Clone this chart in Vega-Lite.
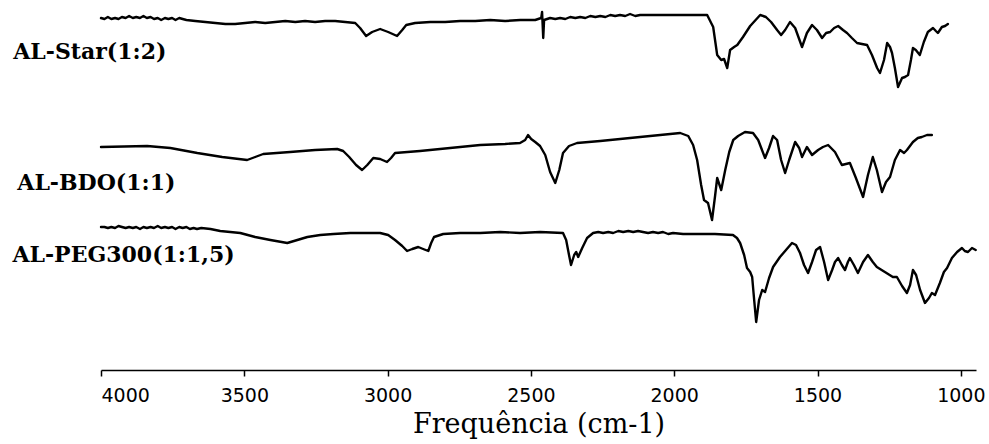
{
  "$schema": "https://vega.github.io/schema/vega-lite/v6.json",
  "width": 875,
  "height": 370,
  "autosize": {"type": "none"},
  "padding": {"left": 101, "top": 0, "right": 13, "bottom": 74},
  "background": "white",
  "config": {"view": {"stroke": null}},
  "datasets": {
    "spectra": [
      {"series":"Star","wavenumber":4000,"T":352},{"series":"Star","wavenumber":3988,"T":351},{"series":"Star","wavenumber":3976,"T":353},{"series":"Star","wavenumber":3964,"T":351},{"series":"Star","wavenumber":3951,"T":352},{"series":"Star","wavenumber":3939,"T":351},{"series":"Star","wavenumber":3927,"T":353},{"series":"Star","wavenumber":3914,"T":352},{"series":"Star","wavenumber":3902,"T":354},{"series":"Star","wavenumber":3889,"T":352},{"series":"Star","wavenumber":3877,"T":353},{"series":"Star","wavenumber":3864,"T":352},{"series":"Star","wavenumber":3852,"T":354},{"series":"Star","wavenumber":3840,"T":352},{"series":"Star","wavenumber":3827,"T":353},{"series":"Star","wavenumber":3815,"T":351},{"series":"Star","wavenumber":3802,"T":352},{"series":"Star","wavenumber":3790,"T":350},{"series":"Star","wavenumber":3777,"T":352},{"series":"Star","wavenumber":3765,"T":351},{"series":"Star","wavenumber":3752,"T":352},{"series":"Star","wavenumber":3740,"T":350},{"series":"Star","wavenumber":3727,"T":352},{"series":"Star","wavenumber":3715,"T":351},{"series":"Star","wavenumber":3702,"T":350},{"series":"Star","wavenumber":3671,"T":349},{"series":"Star","wavenumber":3636,"T":348},{"series":"Star","wavenumber":3601,"T":347},{"series":"Star","wavenumber":3566,"T":346},{"series":"Star","wavenumber":3532,"T":346},{"series":"Star","wavenumber":3497,"T":347},{"series":"Star","wavenumber":3462,"T":348},{"series":"Star","wavenumber":3427,"T":347},{"series":"Star","wavenumber":3392,"T":348},{"series":"Star","wavenumber":3357,"T":349},{"series":"Star","wavenumber":3322,"T":348},{"series":"Star","wavenumber":3288,"T":349},{"series":"Star","wavenumber":3253,"T":348},{"series":"Star","wavenumber":3218,"T":349},{"series":"Star","wavenumber":3183,"T":349},{"series":"Star","wavenumber":3148,"T":348},{"series":"Star","wavenumber":3113,"T":347},{"series":"Star","wavenumber":3096,"T":342},{"series":"Star","wavenumber":3075,"T":334},{"series":"Star","wavenumber":3054,"T":338},{"series":"Star","wavenumber":3026,"T":341},{"series":"Star","wavenumber":2998,"T":338},{"series":"Star","wavenumber":2967,"T":334},{"series":"Star","wavenumber":2949,"T":340},{"series":"Star","wavenumber":2935,"T":345},{"series":"Star","wavenumber":2904,"T":347},{"series":"Star","wavenumber":2851,"T":348},{"series":"Star","wavenumber":2799,"T":348},{"series":"Star","wavenumber":2747,"T":349},{"series":"Star","wavenumber":2694,"T":349},{"series":"Star","wavenumber":2642,"T":350},{"series":"Star","wavenumber":2590,"T":349},{"series":"Star","wavenumber":2537,"T":350},{"series":"Star","wavenumber":2485,"T":350},{"series":"Star","wavenumber":2464,"T":352},{"series":"Star","wavenumber":2461,"T":358},{"series":"Star","wavenumber":2457,"T":332},{"series":"Star","wavenumber":2454,"T":350},{"series":"Star","wavenumber":2433,"T":352},{"series":"Star","wavenumber":2415,"T":351},{"series":"Star","wavenumber":2398,"T":352},{"series":"Star","wavenumber":2380,"T":351},{"series":"Star","wavenumber":2363,"T":353},{"series":"Star","wavenumber":2345,"T":352},{"series":"Star","wavenumber":2328,"T":353},{"series":"Star","wavenumber":2310,"T":352},{"series":"Star","wavenumber":2293,"T":354},{"series":"Star","wavenumber":2275,"T":353},{"series":"Star","wavenumber":2258,"T":354},{"series":"Star","wavenumber":2240,"T":353},{"series":"Star","wavenumber":2223,"T":355},{"series":"Star","wavenumber":2206,"T":354},{"series":"Star","wavenumber":2189,"T":355},{"series":"Star","wavenumber":2171,"T":354},{"series":"Star","wavenumber":2154,"T":356},{"series":"Star","wavenumber":2136,"T":354},{"series":"Star","wavenumber":2119,"T":355},{"series":"Star","wavenumber":2084,"T":355},{"series":"Star","wavenumber":2032,"T":355},{"series":"Star","wavenumber":1980,"T":355},{"series":"Star","wavenumber":1927,"T":355},{"series":"Star","wavenumber":1885,"T":355},{"series":"Star","wavenumber":1864,"T":343},{"series":"Star","wavenumber":1850,"T":315},{"series":"Star","wavenumber":1836,"T":310},{"series":"Star","wavenumber":1826,"T":311},{"series":"Star","wavenumber":1815,"T":302},{"series":"Star","wavenumber":1805,"T":320},{"series":"Star","wavenumber":1791,"T":323},{"series":"Star","wavenumber":1780,"T":325},{"series":"Star","wavenumber":1760,"T":333},{"series":"Star","wavenumber":1735,"T":344},{"series":"Star","wavenumber":1700,"T":355},{"series":"Star","wavenumber":1680,"T":353},{"series":"Star","wavenumber":1662,"T":348},{"series":"Star","wavenumber":1641,"T":340},{"series":"Star","wavenumber":1627,"T":335},{"series":"Star","wavenumber":1613,"T":340},{"series":"Star","wavenumber":1596,"T":348},{"series":"Star","wavenumber":1578,"T":342},{"series":"Star","wavenumber":1554,"T":323},{"series":"Star","wavenumber":1537,"T":337},{"series":"Star","wavenumber":1519,"T":345},{"series":"Star","wavenumber":1502,"T":340},{"series":"Star","wavenumber":1484,"T":332},{"series":"Star","wavenumber":1470,"T":337},{"series":"Star","wavenumber":1456,"T":338},{"series":"Star","wavenumber":1442,"T":342},{"series":"Star","wavenumber":1428,"T":344},{"series":"Star","wavenumber":1411,"T":340},{"series":"Star","wavenumber":1397,"T":337},{"series":"Star","wavenumber":1380,"T":332},{"series":"Star","wavenumber":1362,"T":327},{"series":"Star","wavenumber":1345,"T":326},{"series":"Star","wavenumber":1327,"T":325},{"series":"Star","wavenumber":1310,"T":315},{"series":"Star","wavenumber":1292,"T":302},{"series":"Star","wavenumber":1282,"T":297},{"series":"Star","wavenumber":1268,"T":310},{"series":"Star","wavenumber":1257,"T":327},{"series":"Star","wavenumber":1247,"T":323},{"series":"Star","wavenumber":1240,"T":317},{"series":"Star","wavenumber":1230,"T":302},{"series":"Star","wavenumber":1219,"T":283},{"series":"Star","wavenumber":1205,"T":292},{"series":"Star","wavenumber":1195,"T":293},{"series":"Star","wavenumber":1184,"T":295},{"series":"Star","wavenumber":1174,"T":310},{"series":"Star","wavenumber":1167,"T":322},{"series":"Star","wavenumber":1157,"T":320},{"series":"Star","wavenumber":1143,"T":315},{"series":"Star","wavenumber":1129,"T":328},{"series":"Star","wavenumber":1115,"T":338},{"series":"Star","wavenumber":1097,"T":342},{"series":"Star","wavenumber":1087,"T":339},{"series":"Star","wavenumber":1080,"T":337},{"series":"Star","wavenumber":1066,"T":343},{"series":"Star","wavenumber":1055,"T":344},{"series":"Star","wavenumber":1045,"T":346},
      {"series":"BDO","wavenumber":4000,"T":223},{"series":"BDO","wavenumber":3839,"T":224},{"series":"BDO","wavenumber":3758,"T":222},{"series":"BDO","wavenumber":3664,"T":217},{"series":"BDO","wavenumber":3577,"T":213},{"series":"BDO","wavenumber":3490,"T":210},{"series":"BDO","wavenumber":3462,"T":213},{"series":"BDO","wavenumber":3434,"T":216},{"series":"BDO","wavenumber":3340,"T":218},{"series":"BDO","wavenumber":3253,"T":220},{"series":"BDO","wavenumber":3176,"T":221},{"series":"BDO","wavenumber":3155,"T":219},{"series":"BDO","wavenumber":3134,"T":213},{"series":"BDO","wavenumber":3110,"T":205},{"series":"BDO","wavenumber":3089,"T":200},{"series":"BDO","wavenumber":3071,"T":205},{"series":"BDO","wavenumber":3050,"T":212},{"series":"BDO","wavenumber":3026,"T":211},{"series":"BDO","wavenumber":3002,"T":208},{"series":"BDO","wavenumber":2988,"T":212},{"series":"BDO","wavenumber":2974,"T":217},{"series":"BDO","wavenumber":2887,"T":219},{"series":"BDO","wavenumber":2782,"T":222},{"series":"BDO","wavenumber":2677,"T":225},{"series":"BDO","wavenumber":2590,"T":226},{"series":"BDO","wavenumber":2538,"T":227},{"series":"BDO","wavenumber":2520,"T":230},{"series":"BDO","wavenumber":2510,"T":235},{"series":"BDO","wavenumber":2499,"T":231},{"series":"BDO","wavenumber":2485,"T":228},{"series":"BDO","wavenumber":2468,"T":224},{"series":"BDO","wavenumber":2450,"T":215},{"series":"BDO","wavenumber":2433,"T":198},{"series":"BDO","wavenumber":2415,"T":187},{"series":"BDO","wavenumber":2401,"T":200},{"series":"BDO","wavenumber":2388,"T":217},{"series":"BDO","wavenumber":2367,"T":224},{"series":"BDO","wavenumber":2339,"T":227},{"series":"BDO","wavenumber":2258,"T":229},{"series":"BDO","wavenumber":2154,"T":232},{"series":"BDO","wavenumber":2049,"T":235},{"series":"BDO","wavenumber":1979,"T":237},{"series":"BDO","wavenumber":1951,"T":234},{"series":"BDO","wavenumber":1934,"T":225},{"series":"BDO","wavenumber":1920,"T":210},{"series":"BDO","wavenumber":1906,"T":185},{"series":"BDO","wavenumber":1896,"T":170},{"series":"BDO","wavenumber":1882,"T":167},{"series":"BDO","wavenumber":1868,"T":150},{"series":"BDO","wavenumber":1857,"T":175},{"series":"BDO","wavenumber":1850,"T":192},{"series":"BDO","wavenumber":1836,"T":180},{"series":"BDO","wavenumber":1822,"T":200},{"series":"BDO","wavenumber":1808,"T":218},{"series":"BDO","wavenumber":1794,"T":230},{"series":"BDO","wavenumber":1777,"T":234},{"series":"BDO","wavenumber":1753,"T":238},{"series":"BDO","wavenumber":1725,"T":237},{"series":"BDO","wavenumber":1707,"T":230},{"series":"BDO","wavenumber":1683,"T":212},{"series":"BDO","wavenumber":1669,"T":222},{"series":"BDO","wavenumber":1655,"T":234},{"series":"BDO","wavenumber":1641,"T":230},{"series":"BDO","wavenumber":1627,"T":210},{"series":"BDO","wavenumber":1613,"T":197},{"series":"BDO","wavenumber":1599,"T":210},{"series":"BDO","wavenumber":1578,"T":228},{"series":"BDO","wavenumber":1564,"T":222},{"series":"BDO","wavenumber":1554,"T":213},{"series":"BDO","wavenumber":1537,"T":223},{"series":"BDO","wavenumber":1519,"T":215},{"series":"BDO","wavenumber":1498,"T":220},{"series":"BDO","wavenumber":1481,"T":223},{"series":"BDO","wavenumber":1463,"T":225},{"series":"BDO","wavenumber":1439,"T":218},{"series":"BDO","wavenumber":1415,"T":205},{"series":"BDO","wavenumber":1387,"T":207},{"series":"BDO","wavenumber":1366,"T":192},{"series":"BDO","wavenumber":1341,"T":173},{"series":"BDO","wavenumber":1324,"T":195},{"series":"BDO","wavenumber":1307,"T":213},{"series":"BDO","wavenumber":1293,"T":200},{"series":"BDO","wavenumber":1275,"T":178},{"series":"BDO","wavenumber":1261,"T":188},{"series":"BDO","wavenumber":1247,"T":193},{"series":"BDO","wavenumber":1230,"T":210},{"series":"BDO","wavenumber":1212,"T":220},{"series":"BDO","wavenumber":1198,"T":217},{"series":"BDO","wavenumber":1188,"T":220},{"series":"BDO","wavenumber":1167,"T":228},{"series":"BDO","wavenumber":1150,"T":232},{"series":"BDO","wavenumber":1136,"T":233},{"series":"BDO","wavenumber":1118,"T":235},{"series":"BDO","wavenumber":1101,"T":235},
      {"series":"PEG","wavenumber":4000,"T":143},{"series":"PEG","wavenumber":3988,"T":143},{"series":"PEG","wavenumber":3976,"T":142},{"series":"PEG","wavenumber":3964,"T":143},{"series":"PEG","wavenumber":3951,"T":142},{"series":"PEG","wavenumber":3939,"T":144},{"series":"PEG","wavenumber":3927,"T":143},{"series":"PEG","wavenumber":3914,"T":142},{"series":"PEG","wavenumber":3902,"T":143},{"series":"PEG","wavenumber":3889,"T":142},{"series":"PEG","wavenumber":3877,"T":143},{"series":"PEG","wavenumber":3864,"T":141},{"series":"PEG","wavenumber":3852,"T":143},{"series":"PEG","wavenumber":3840,"T":142},{"series":"PEG","wavenumber":3827,"T":143},{"series":"PEG","wavenumber":3815,"T":142},{"series":"PEG","wavenumber":3802,"T":144},{"series":"PEG","wavenumber":3790,"T":142},{"series":"PEG","wavenumber":3777,"T":143},{"series":"PEG","wavenumber":3765,"T":142},{"series":"PEG","wavenumber":3752,"T":143},{"series":"PEG","wavenumber":3740,"T":141},{"series":"PEG","wavenumber":3727,"T":143},{"series":"PEG","wavenumber":3715,"T":142},{"series":"PEG","wavenumber":3702,"T":143},{"series":"PEG","wavenumber":3690,"T":141},{"series":"PEG","wavenumber":3677,"T":142},{"series":"PEG","wavenumber":3665,"T":141},{"series":"PEG","wavenumber":3650,"T":142},{"series":"PEG","wavenumber":3618,"T":141},{"series":"PEG","wavenumber":3584,"T":139},{"series":"PEG","wavenumber":3549,"T":138},{"series":"PEG","wavenumber":3514,"T":137},{"series":"PEG","wavenumber":3462,"T":133},{"series":"PEG","wavenumber":3409,"T":130},{"series":"PEG","wavenumber":3350,"T":127},{"series":"PEG","wavenumber":3315,"T":130},{"series":"PEG","wavenumber":3280,"T":133},{"series":"PEG","wavenumber":3235,"T":135},{"series":"PEG","wavenumber":3189,"T":136},{"series":"PEG","wavenumber":3130,"T":137},{"series":"PEG","wavenumber":3078,"T":137},{"series":"PEG","wavenumber":3026,"T":137},{"series":"PEG","wavenumber":2998,"T":135},{"series":"PEG","wavenumber":2974,"T":130},{"series":"PEG","wavenumber":2949,"T":124},{"series":"PEG","wavenumber":2932,"T":119},{"series":"PEG","wavenumber":2914,"T":121},{"series":"PEG","wavenumber":2893,"T":123},{"series":"PEG","wavenumber":2876,"T":121},{"series":"PEG","wavenumber":2858,"T":119},{"series":"PEG","wavenumber":2848,"T":127},{"series":"PEG","wavenumber":2838,"T":133},{"series":"PEG","wavenumber":2806,"T":136},{"series":"PEG","wavenumber":2747,"T":137},{"series":"PEG","wavenumber":2677,"T":137},{"series":"PEG","wavenumber":2607,"T":138},{"series":"PEG","wavenumber":2538,"T":137},{"series":"PEG","wavenumber":2468,"T":138},{"series":"PEG","wavenumber":2388,"T":137},{"series":"PEG","wavenumber":2377,"T":130},{"series":"PEG","wavenumber":2367,"T":115},{"series":"PEG","wavenumber":2360,"T":105},{"series":"PEG","wavenumber":2349,"T":115},{"series":"PEG","wavenumber":2342,"T":118},{"series":"PEG","wavenumber":2335,"T":113},{"series":"PEG","wavenumber":2321,"T":122},{"series":"PEG","wavenumber":2304,"T":132},{"series":"PEG","wavenumber":2283,"T":137},{"series":"PEG","wavenumber":2265,"T":138},{"series":"PEG","wavenumber":2248,"T":137},{"series":"PEG","wavenumber":2230,"T":138},{"series":"PEG","wavenumber":2213,"T":137},{"series":"PEG","wavenumber":2195,"T":139},{"series":"PEG","wavenumber":2178,"T":138},{"series":"PEG","wavenumber":2160,"T":139},{"series":"PEG","wavenumber":2143,"T":138},{"series":"PEG","wavenumber":2126,"T":139},{"series":"PEG","wavenumber":2109,"T":138},{"series":"PEG","wavenumber":2091,"T":137},{"series":"PEG","wavenumber":2074,"T":138},{"series":"PEG","wavenumber":2056,"T":137},{"series":"PEG","wavenumber":2039,"T":138},{"series":"PEG","wavenumber":2021,"T":136},{"series":"PEG","wavenumber":2004,"T":137},{"series":"PEG","wavenumber":1969,"T":136},{"series":"PEG","wavenumber":1934,"T":136},{"series":"PEG","wavenumber":1899,"T":136},{"series":"PEG","wavenumber":1858,"T":136},{"series":"PEG","wavenumber":1795,"T":135},{"series":"PEG","wavenumber":1781,"T":132},{"series":"PEG","wavenumber":1770,"T":127},{"series":"PEG","wavenumber":1756,"T":115},{"series":"PEG","wavenumber":1746,"T":102},{"series":"PEG","wavenumber":1735,"T":98},{"series":"PEG","wavenumber":1728,"T":93},{"series":"PEG","wavenumber":1721,"T":70},{"series":"PEG","wavenumber":1714,"T":48},{"series":"PEG","wavenumber":1704,"T":70},{"series":"PEG","wavenumber":1693,"T":80},{"series":"PEG","wavenumber":1683,"T":78},{"series":"PEG","wavenumber":1669,"T":92},{"series":"PEG","wavenumber":1655,"T":103},{"series":"PEG","wavenumber":1631,"T":113},{"series":"PEG","wavenumber":1610,"T":120},{"series":"PEG","wavenumber":1589,"T":127},{"series":"PEG","wavenumber":1575,"T":125},{"series":"PEG","wavenumber":1561,"T":117},{"series":"PEG","wavenumber":1547,"T":105},{"series":"PEG","wavenumber":1533,"T":97},{"series":"PEG","wavenumber":1519,"T":108},{"series":"PEG","wavenumber":1505,"T":120},{"series":"PEG","wavenumber":1491,"T":123},{"series":"PEG","wavenumber":1477,"T":108},{"series":"PEG","wavenumber":1463,"T":90},{"series":"PEG","wavenumber":1449,"T":100},{"series":"PEG","wavenumber":1439,"T":108},{"series":"PEG","wavenumber":1428,"T":112},{"series":"PEG","wavenumber":1415,"T":105},{"series":"PEG","wavenumber":1404,"T":100},{"series":"PEG","wavenumber":1394,"T":108},{"series":"PEG","wavenumber":1387,"T":112},{"series":"PEG","wavenumber":1373,"T":105},{"series":"PEG","wavenumber":1359,"T":97},{"series":"PEG","wavenumber":1341,"T":108},{"series":"PEG","wavenumber":1324,"T":115},{"series":"PEG","wavenumber":1307,"T":108},{"series":"PEG","wavenumber":1293,"T":103},{"series":"PEG","wavenumber":1265,"T":98},{"series":"PEG","wavenumber":1237,"T":93},{"series":"PEG","wavenumber":1223,"T":93},{"series":"PEG","wavenumber":1205,"T":84},{"series":"PEG","wavenumber":1188,"T":77},{"series":"PEG","wavenumber":1177,"T":85},{"series":"PEG","wavenumber":1167,"T":100},{"series":"PEG","wavenumber":1156,"T":95},{"series":"PEG","wavenumber":1142,"T":80},{"series":"PEG","wavenumber":1125,"T":67},{"series":"PEG","wavenumber":1111,"T":72},{"series":"PEG","wavenumber":1101,"T":77},{"series":"PEG","wavenumber":1090,"T":75},{"series":"PEG","wavenumber":1073,"T":87},{"series":"PEG","wavenumber":1059,"T":98},{"series":"PEG","wavenumber":1048,"T":102},{"series":"PEG","wavenumber":1031,"T":112},{"series":"PEG","wavenumber":1013,"T":118},{"series":"PEG","wavenumber":996,"T":122},{"series":"PEG","wavenumber":986,"T":119},{"series":"PEG","wavenumber":975,"T":118},{"series":"PEG","wavenumber":961,"T":122},{"series":"PEG","wavenumber":948,"T":120}
    ],
    "labels": [
      {"label":"AL-Star(1:2)","wavenumber":4306,"T":311},
      {"label":"AL-BDO(1:1)","wavenumber":4292,"T":180},
      {"label":"AL-PEG300(1:1,5)","wavenumber":4309,"T":108}
    ]
  },
  "layer": [
    {
      "data": {"name": "spectra"},
      "mark": {"type": "line", "color": "black", "strokeWidth": 2.4, "strokeJoin": "round", "strokeCap": "round"},
      "encoding": {
        "x": {
          "field": "wavenumber", "type": "quantitative",
          "scale": {"domain": [947, 4000], "reverse": true, "nice": false, "zero": false},
          "axis": {
            "values": [4000, 3500, 3000, 2500, 2000, 1500, 1000],
            "format": "d",
            "title": "Frequência (cm-1)",
            "grid": false,
            "domainColor": "black", "domainWidth": 1.5,
            "tickColor": "black", "tickWidth": 1.5, "tickSize": 6,
            "labelFont": "DejaVu Sans", "labelFontSize": 19, "labelColor": "black", "labelPadding": 10,
            "titleFont": "DejaVu Serif", "titleFontSize": 27, "titleFontWeight": "normal", "titleColor": "black", "titlePadding": 6
          }
        },
        "y": {
          "field": "T", "type": "quantitative",
          "scale": {"domain": [0, 370], "nice": false, "zero": false},
          "axis": null
        },
        "detail": {"field": "series"}
      }
    },
    {
      "data": {"name": "labels"},
      "mark": {"type": "text", "align": "left", "baseline": "alphabetic", "font": "DejaVu Serif", "fontWeight": "bold", "fontSize": 22, "color": "black"},
      "encoding": {
        "x": {"field": "wavenumber", "type": "quantitative"},
        "y": {"field": "T", "type": "quantitative"},
        "text": {"field": "label"}
      }
    }
  ]
}
